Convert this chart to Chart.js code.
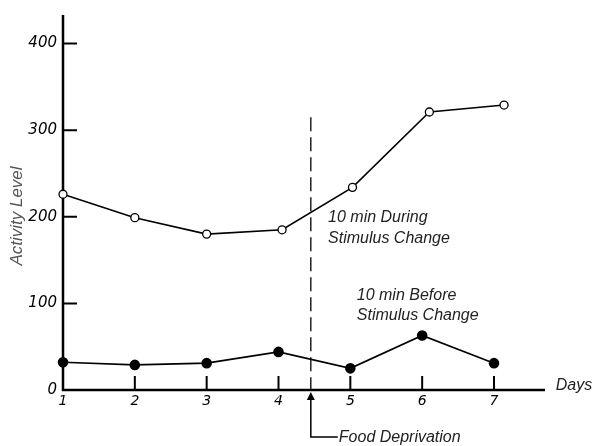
<!DOCTYPE html>
<html>
<head>
<meta charset="utf-8">
<script src="https://cdn.jsdelivr.net/npm/chart.js@4/dist/chart.umd.min.js"></script>
<style>
html,body{margin:0;padding:0;background:#fff;}
#wrap{width:593px;height:446px;}
</style>
</head>
<body>
<div id="wrap"><canvas id="c" width="593" height="446"></canvas></div>
<script>
// ---- data ----
const days = [1, 2, 3, 4, 5, 6, 7];
const dayLabels = ['1', '2', '3', '4', '5', '6', '7'];
const duringDays = [1, 2, 3, 4.05, 5.03, 6.1, 7.14]; // plotted positions of open circles
const duringValues = [226, 199, 180, 185, 234, 321, 329];
const beforeValues = [32, 29, 31, 44, 25, 63, 31];
const yTicks = [0, 100, 200, 300, 400];
const foodDeprivationDay = 4.45;

const duringData = duringDays.map((d, i) => ({x: d, y: duringValues[i]}));
const beforeData = days.map((d, i) => ({x: d, y: beforeValues[i]}));

const annot = {
  id: 'annot',
  beforeDatasetsDraw(chart) {
    const ctx = chart.ctx;
    const xs = chart.scales.x, ys = chart.scales.y;
    const X = v => xs.getPixelForValue(v), Y = v => ys.getPixelForValue(v);
    ctx.save();
    ctx.strokeStyle = '#000';
    ctx.fillStyle = '#000';
    ctx.lineCap = 'butt';
    // axes
    ctx.lineWidth = 2.5;
    ctx.beginPath();
    ctx.moveTo(X(1), ys.top);
    ctx.lineTo(X(1), Y(0) + 1);
    ctx.moveTo(X(1) - 1, Y(0));
    ctx.lineTo(xs.right, Y(0));
    ctx.stroke();
    // y ticks (inward)
    ctx.lineWidth = 2;
    ctx.beginPath();
    yTicks.forEach(v => { if (v > 0) { ctx.moveTo(X(1), Y(v)); ctx.lineTo(X(1) + 14, Y(v)); } });
    // x ticks (upward)
    days.forEach(d => { if (d > 1) { ctx.moveTo(X(d), Y(0)); ctx.lineTo(X(d), Y(0) - 14); } });
    ctx.stroke();
    // dashed food deprivation line
    const fx = X(foodDeprivationDay);
    ctx.lineWidth = 1.3;
    ctx.setLineDash([14, 6]);
    ctx.beginPath();
    ctx.moveTo(fx, Y(315));
    ctx.lineTo(fx, Y(0));
    ctx.stroke();
    ctx.setLineDash([]);
    // arrow
    ctx.lineWidth = 1.5;
    ctx.beginPath();
    ctx.moveTo(fx, Y(0) + 6);
    ctx.lineTo(fx, 437);
    ctx.lineTo(fx + 27, 437);
    ctx.stroke();
    ctx.beginPath();
    ctx.moveTo(fx, Y(0) + 2);
    ctx.lineTo(fx - 4, Y(0) + 10);
    ctx.lineTo(fx + 4, Y(0) + 10);
    ctx.closePath();
    ctx.fill();
    // texts
    ctx.font = 'italic 16px "Liberation Sans"';
    ctx.fillStyle = '#222';
    ctx.textAlign = 'left';
    ctx.textBaseline = 'middle';
    ctx.fillText('10 min During', X(4.69), Y(199));
    ctx.fillText('Stimulus Change', X(4.69), Y(175));
    ctx.fillText('10 min Before', X(5.09), Y(109));
    ctx.fillText('Stimulus Change', X(5.09), Y(86));
    ctx.fillText('Days', X(7.86), Y(5.5));
    ctx.fillText('Food Deprivation', fx + 28, 438);
    // y title
    ctx.save();
    ctx.translate(17, 216);
    ctx.rotate(-Math.PI / 2);
    ctx.textAlign = 'center';
    ctx.fillStyle = '#555';
    ctx.font = 'italic 17px "Liberation Sans"';
    ctx.fillText('Activity Level', 0, 0);
    ctx.restore();
    ctx.restore();
  }
};

new Chart(document.getElementById('c'), {
  type: 'line',
  data: {
    datasets: [
      {
        label: '10 min During Stimulus Change',
        data: duringData,
        clip: false,
        borderColor: '#000',
        borderWidth: 1.6,
        backgroundColor: '#fff',
        pointBackgroundColor: '#fff',
        pointBorderColor: '#000',
        pointBorderWidth: 1.3,
        pointRadius: 4,
        tension: 0
      },
      {
        label: '10 min Before Stimulus Change',
        data: beforeData,
        clip: false,
        borderColor: '#000',
        borderWidth: 1.6,
        backgroundColor: '#000',
        pointBackgroundColor: '#000',
        pointBorderColor: '#000',
        pointRadius: 4.5,
        tension: 0
      }
    ]
  },
  options: {
    responsive: false,
    animation: false,
    layout: {padding: {left: 0, right: 48, top: 12, bottom: 0}},
    plugins: {legend: {display: false}, tooltip: {enabled: false}},
    scales: {
      x: {
        type: 'linear',
        min: 1,
        max: 7.71,
        afterBuildTicks: s => { s.ticks = days.map(v => ({value: v})); },
        afterFit: s => { s.height = 56; },
        grid: {display: false, drawTicks: false},
        border: {display: false},
        ticks: {
          color: '#000',
          padding: 3,
          maxRotation: 0,
          autoSkip: false,
          font: {family: 'DejaVu Sans', style: 'italic', size: 14},
          callback: v => dayLabels[days.indexOf(v)]
        }
      },
      y: {
        min: 0,
        max: 433,
        afterBuildTicks: s => { s.ticks = yTicks.map(v => ({value: v})); },
        afterFit: s => { s.width = 63; },
        grid: {display: false, drawTicks: false},
        border: {display: false},
        ticks: {
          color: '#000',
          padding: 6,
          autoSkip: false,
          font: {family: 'DejaVu Sans', style: 'italic', size: 15}
        }
      }
    }
  },
  plugins: [annot]
});
</script>
</body>
</html>
